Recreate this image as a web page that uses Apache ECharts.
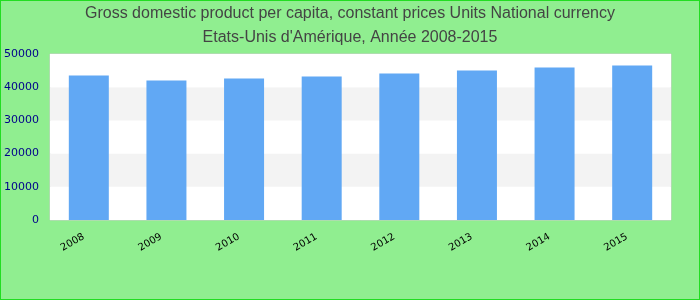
<!DOCTYPE html>
<html>
<head>
<meta charset="utf-8">
<script src="https://cdn.jsdelivr.net/npm/echarts@6/dist/echarts.min.js"></script>
<style>
html,body{margin:0;padding:0;}
#c{width:700px;height:300px;box-sizing:border-box;border:1px solid #22dd22;background:#90ee90;}
</style>
</head>
<body>
<div id="c"></div>
<script>
var categories = ['2008','2009','2010','2011','2012','2013','2014','2015'];
var values = [43530, 42020, 42620, 43230, 44130, 45040, 45940, 46550];
var titleLines = ['Gross domestic product per capita, constant prices Units National currency', "Etats-Unis d'Amérique, Année 2008-2015"];

var chart = echarts.init(document.getElementById('c'), null, {renderer:'canvas'});
chart.setOption({
  backgroundColor: 'transparent',
  animation: false,
  title: {
    text: titleLines.join('\n'),
    left: 'center',
    top: -4,
    textStyle: {fontFamily: 'Liberation Sans, Arial', fontSize: 16, fontWeight: 'normal', color: '#444', lineHeight: 24}
  },
  grid: {left: 49, right: 28, top: 53, bottom: 79, show: true, backgroundColor: '#fff', borderColor: '#ccc', borderWidth: 1},
  xAxis: {
    type: 'category',
    data: categories,
    axisLine: {show: false},
    axisTick: {show: false},
    axisLabel: {rotate: 30, color: '#000', fontSize: 10, fontFamily: 'DejaVu Sans', margin: 13, padding: [0, 6, 0, 0]}
  },
  yAxis: {
    type: 'value',
    min: 0, max: 50000, interval: 10000,
    axisLine: {show: false},
    axisTick: {show: false},
    splitLine: {show: false},
    splitArea: {show: true, areaStyle: {color: ['#ffffff', '#f3f3f3']}},
    axisLabel: {color: '#00008b', fontSize: 11, fontFamily: 'DejaVu Sans', margin: 11, formatter: function (v) { return String(v); }}
  },
  series: [{
    type: 'bar',
    data: values,
    barWidth: 40,
    itemStyle: {color: '#61a8f4'}
  }]
});
</script>
</body>
</html>
